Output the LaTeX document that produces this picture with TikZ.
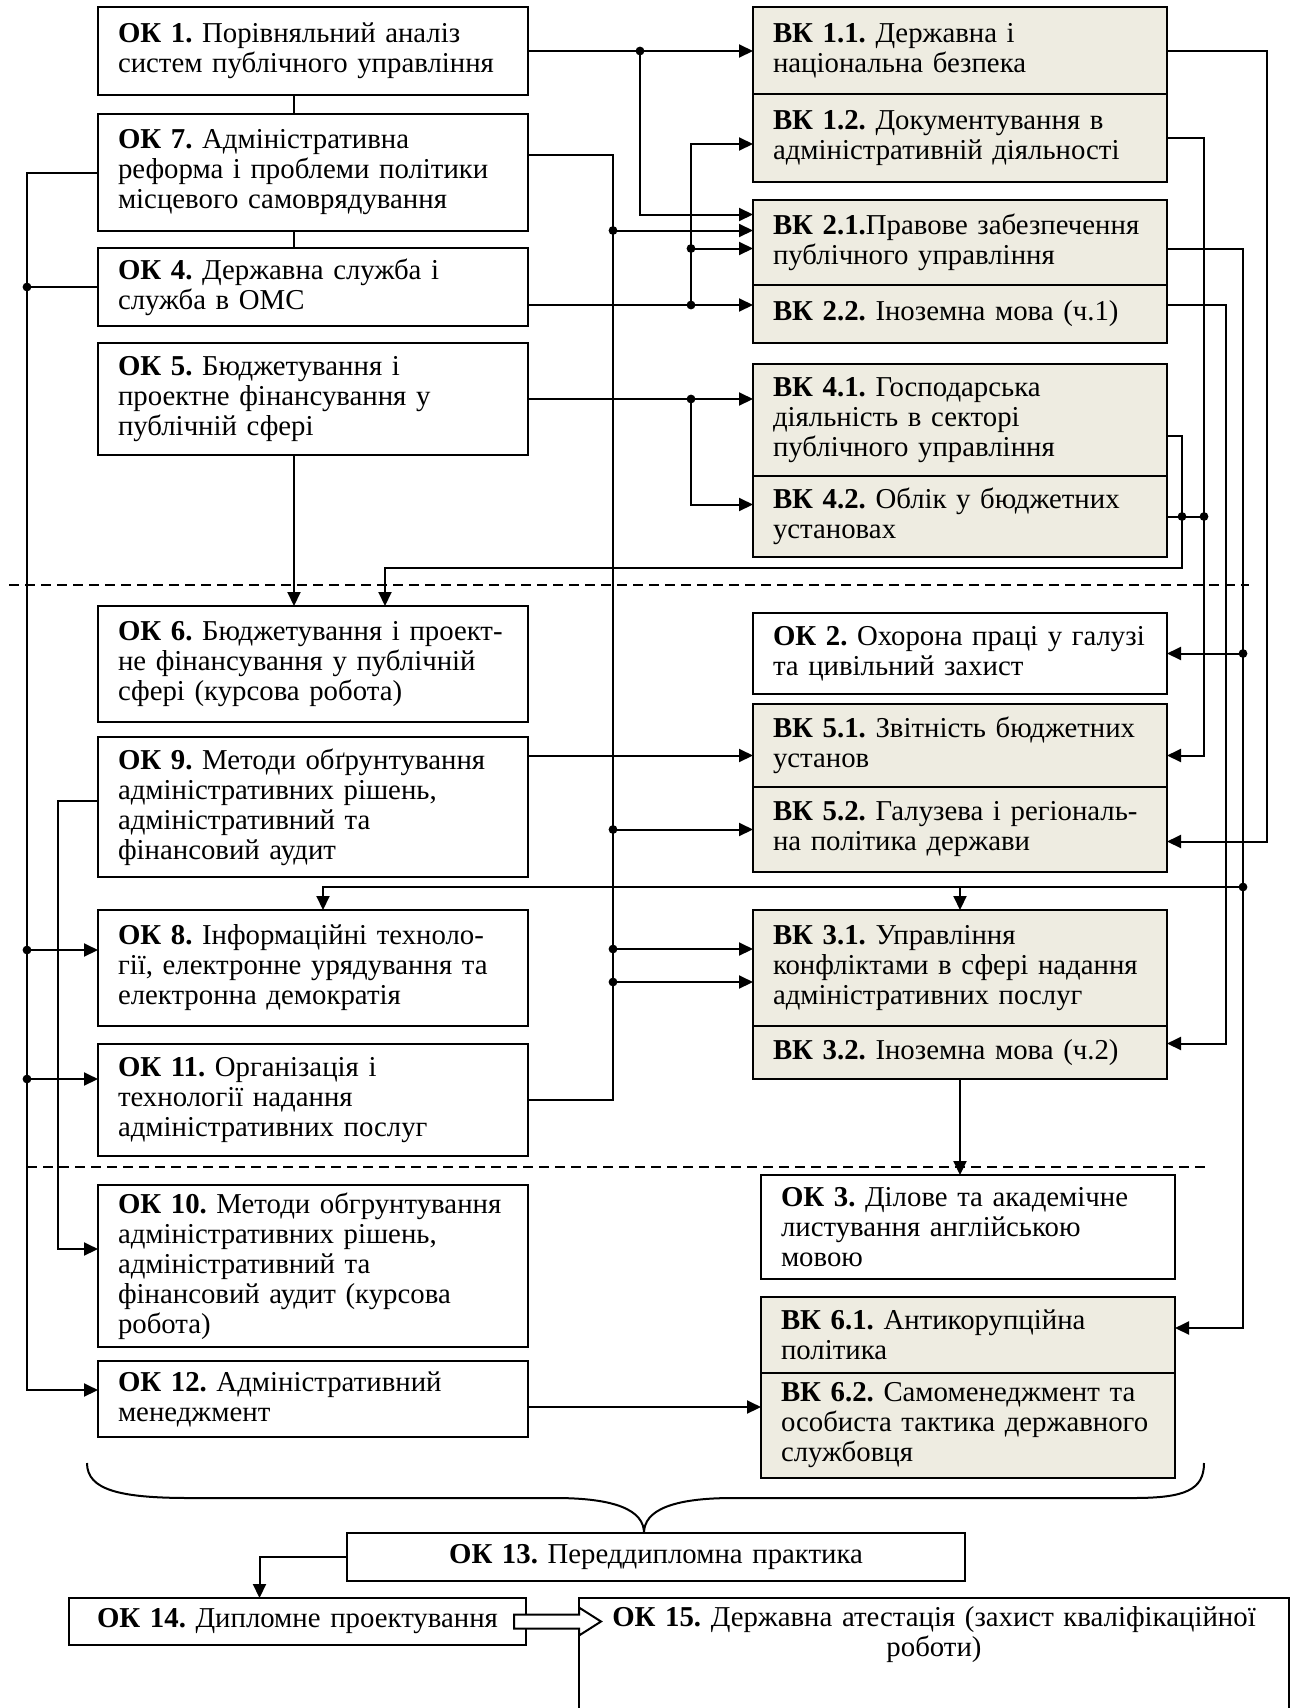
\documentclass[tikz,border=0pt]{standalone}
\usepackage{fontspec}
\setmainfont{Liberation Serif}
\usetikzlibrary{positioning,arrows.meta,calc}
\definecolor{vkfill}{HTML}{EEECE1}
\frenchspacing
\tikzset{
    okbox/.style={rectangle, draw=black, line width=1.3pt, fill=white, align=left, text width=195pt, inner xsep=10pt, inner ysep=0pt, outer sep=0pt, font=\fontsize{14.4}{15}\selectfont},
    vkbox/.style={okbox, fill=vkfill, text width=187pt},
    endbox/.style={okbox, align=center},
    conn/.style={line width=1pt},
    arr/.style={line width=1pt, -{Triangle[length=7pt,width=6.5pt]}},
    sepline/.style={line width=0.7pt, dash pattern=on 5pt off 3pt}
    }

\begin{document}
\begin{tikzpicture}[x=0.5pt, y=-0.5pt]
        \useasboundingbox (0,0) rectangle (1297,1708);
        \fill[white] (0,0) rectangle (1297,1708);
        % buses
        \coordinate (busL) at (27,0);
        \coordinate (busL2) at (58,0);
        \coordinate (busA) at (294,0);
        \coordinate (busB) at (613,0);
        \coordinate (busC) at (640,0);
        \coordinate (busD) at (691,0);
        \coordinate (busR1) at (1182,0);
        \coordinate (busR2) at (1204,0);
        \coordinate (busR3) at (1226,0);
        \coordinate (busR4) at (1243,0);
        \coordinate (busR5) at (1267,0);
        \coordinate (rowA) at (0,568);
        \coordinate (rowB) at (0,887);

        \draw[sepline] (9,585) -- (1249,585);
        \draw[sepline] (27,1167) -- (1209,1167);

        % left column
        \node[okbox, minimum height=44pt, anchor=north west] (ok1) at (98,7) {\textbf{ОК 1.} Порівняльний аналіз\\систем публічного управління};
        \node[okbox, minimum height=58.5pt, below=9.5pt of ok1] (ok7) {\textbf{ОК 7.} Адміністративна\\реформа і проблеми політики\\місцевого самоврядування};
        \node[okbox, minimum height=39pt, below=8.5pt of ok7] (ok4) {\textbf{ОК 4.} Державна служба і\\служба в ОМС};
        \node[okbox, minimum height=56pt, below=8.5pt of ok4] (ok5) {\textbf{ОК 5.} Бюджетування і\\проектне фінансування у\\публічній сфері};
        \node[okbox, minimum height=58pt, below=75.5pt of ok5] (ok6) {\textbf{ОК 6.} Бюджетування і проект-\\не фінансування у публічній\\сфері (курсова робота)};
        \node[okbox, minimum height=70pt, below=7.5pt of ok6] (ok9) {\textbf{ОК 9.} Методи обґрунтування\\адміністративних рішень,\\адміністративний та\\фінансовий аудит};
        \node[okbox, minimum height=58pt, below=16.5pt of ok9] (ok8) {\textbf{ОК 8.} Інформаційні техноло-\\гії, електронне урядування та\\електронна демократія};
        \node[okbox, minimum height=56pt, below=9pt of ok8] (ok11) {\textbf{ОК 11.} Організація і\\технології надання\\адміністративних послуг};
        \node[okbox, minimum height=81pt, below=14.5pt of ok11] (ok10) {\textbf{ОК 10.} Методи обгрунтування\\адміністративних рішень,\\адміністративний та\\фінансовий аудит (курсова\\робота)};
        \node[okbox, minimum height=38pt, below=7pt of ok10] (ok12) {\textbf{ОК 12.} Адміністративний\\менеджмент};

        % right column
        \node[vkbox, minimum height=43.5pt, anchor=north west] (vk11) at (753,7) {\textbf{ВК 1.1.} Державна і\\національна безпека};
        \node[vkbox, minimum height=44pt, below=0pt of vk11] (vk12) {\textbf{ВК 1.2.} Документування в\\адміністративній діяльності};
        \node[vkbox, minimum height=42.5pt, below=9pt of vk12] (vk21) {\textbf{ВК 2.1.}Правове забезпечення\\публічного управління};
        \node[vkbox, minimum height=29pt, below=0pt of vk21] (vk22) {\textbf{ВК 2.2.} Іноземна мова (ч.1)};
        \node[vkbox, minimum height=56pt, below=10.5pt of vk22] (vk41) {\textbf{ВК 4.1.} Господарська\\діяльність в секторі\\публічного управління};
        \node[vkbox, minimum height=40.5pt, below=0pt of vk41] (vk42) {\textbf{ВК 4.2.} Облік у бюджетних\\установах};
        \node[vkbox, fill=white, minimum height=40.5pt, below=28pt of vk42] (ok2) {\textbf{ОК 2.} Охорона праці у галузі\\та цивільний захист};
        \node[vkbox, minimum height=41.5pt, below=5pt of ok2] (vk51) {\textbf{ВК 5.1.} Звітність бюджетних\\установ};
        \node[vkbox, minimum height=42.5pt, below=0pt of vk51] (vk52) {\textbf{ВК 5.2.} Галузева і регіональ-\\на політика держави};
        \node[vkbox, minimum height=58pt, below=19pt of vk52] (vk31) {\textbf{ВК 3.1.} Управління\\конфліктами в сфері надання\\адміністративних послуг};
        \node[vkbox, minimum height=26.5pt, below=0pt of vk31] (vk32) {\textbf{ВК 3.2.} Іноземна мова (ч.2)};
        \node[vkbox, fill=white, minimum height=52pt, below=48pt of vk32, xshift=4pt] (ok3) {\textbf{ОК 3.} Ділове та академічне\\листування англійською\\мовою};
        \node[vkbox, minimum height=38pt, below=9pt of ok3] (vk61) {\textbf{ВК 6.1.} Антикорупційна\\політика};
        \node[vkbox, minimum height=52.5pt, below=0pt of vk61] (vk62) {\textbf{ВК 6.2.} Самоменеджмент та\\особиста тактика державного\\службовця};

        % bottom
        \node[endbox, text width=289pt, minimum height=24pt, anchor=north west] (ok13) at (347,1533) {\textbf{ОК 13.} Переддипломна практика};
        \node[endbox, text width=208.5pt, minimum height=23.5pt, anchor=north west] (ok14) at (69,1598) {\textbf{ОК 14.} Дипломне проектування};
        \node[endbox, text width=335pt, inner ysep=4pt, anchor=north west] (ok15) at (579,1598) {\textbf{ОК 15.} Державна атестація (захист кваліфікаційної\\роботи)\rule[-60pt]{0pt}{0pt}};

        % chain OK 1 - OK 7 - OK 4, OK 5 -> OK 6
        \draw[conn] (ok1.south -| busA) -- (ok7.north -| busA);
        \draw[conn] (ok7.south -| busA) -- (ok4.north -| busA);
        \draw[arr] (ok5.south -| busA) -- (ok6.north -| busA);

        % OK 1
        \draw[arr] (ok1.east) -- (ok1.east -| vk11.west);
        \draw[arr] (ok1.east -| busC) |- ([yshift=14pt]vk21.west);
        \fill (ok1.east -| busC) circle (2.2pt);

        % OK 7 and OK 11
        \draw[conn] ([yshift=9pt]ok7.east) -| (ok11.east -| busB) -- (ok11.east);
        \draw[arr] ([yshift=6pt]vk21.west -| busB) -- ([yshift=6pt]vk21.west);
        \draw[arr] (vk52.west -| busB) -- (vk52.west);
        \draw[arr] ([yshift=9.5pt]vk31.west -| busB) -- ([yshift=9.5pt]vk31.west);
        \draw[arr] ([yshift=-7pt]vk31.west -| busB) -- ([yshift=-7pt]vk31.west);
        \fill ([yshift=6pt]vk21.west -| busB) circle (2.2pt);
        \fill (vk52.west -| busB) circle (2.2pt);
        \fill ([yshift=9.5pt]vk31.west -| busB) circle (2.2pt);
        \fill ([yshift=-7pt]vk31.west -| busB) circle (2.2pt);

        % OK 4
        \draw[arr] ([yshift=-9pt]ok4.east) -- ([yshift=-9pt]ok4.east -| vk22.west);
        \draw[arr] ([yshift=-9pt]ok4.east -| busD) |- ([yshift=-3pt]vk21.west);
        \draw[arr] ([yshift=-9pt]ok4.east -| busD) |- ([yshift=-3pt]vk12.west);
        \fill ([yshift=-9pt]ok4.east -| busD) circle (2.2pt);
        \fill ([yshift=-3pt]vk21.west -| busD) circle (2.2pt);

        % OK 5
        \draw[arr] (ok5.east) -- (ok5.east -| vk41.west);
        \draw[arr] (ok5.east -| busD) |- ([yshift=6pt]vk42.west);
        \fill (ok5.east -| busD) circle (2.2pt);

        % VK 4.1, VK 4.2 -> OK 6
        \draw[arr] ([yshift=-8pt]vk41.east) -| (busR1 |- rowA) -| ([xshift=36pt]ok6.north);
        \draw[conn] (vk42.east) -- (vk42.east -| busR2);
        \fill (vk42.east -| busR1) circle (2.2pt);
        \fill (vk42.east -| busR2) circle (2.2pt);

        % VK 1.2 -> VK 5.1, VK 1.1 -> VK 5.2
        \draw[arr] (vk12.east) -| ([yshift=-5pt]vk51.east -| busR2) -- ([yshift=-5pt]vk51.east);
        \draw[arr] (vk11.east) -| ([yshift=-6pt]vk52.east -| busR5) -- ([yshift=-6pt]vk52.east);

        % VK 2.1
        \draw[arr] ([yshift=-3pt]vk21.east) -| ([yshift=3.5pt]vk61.east -| busR4) -- ([yshift=3.5pt]vk61.east);
        \draw[arr] (ok2.east -| busR4) -- (ok2.east);
        \draw[arr] (busR4 |- rowB) -| ([xshift=5pt]ok8.north);
        \draw[arr] (vk31.north |- rowB) -- (vk31.north);
        \fill (ok2.east -| busR4) circle (2.2pt);
        \fill (busR4 |- rowB) circle (2.2pt);

        % VK 2.2 -> VK 3.2 -> OK 3
        \draw[arr] ([yshift=4.5pt]vk22.east) -| ([yshift=4.5pt]vk32.east -| busR3) -- ([yshift=4.5pt]vk32.east);
        \draw[arr] (vk32.south) -- (vk32.south |- ok3.north);

        % OK 9
        \draw[arr] ([yshift=-5pt]vk51.west -| ok9.east) -- ([yshift=-5pt]vk51.west);
        \draw[arr] ([yshift=3pt]ok9.west) -| ([yshift=8.5pt]ok10.west -| busL2) -- ([yshift=8.5pt]ok10.west);

        % left bus
        \draw[arr] (ok7.west) -| ([yshift=4.5pt]ok12.west -| busL) -- ([yshift=4.5pt]ok12.west);
        \draw[conn] (ok4.west -| busL) -- (ok4.west);
        \draw[arr] ([yshift=9pt]ok8.west -| busL) -- ([yshift=9pt]ok8.west);
        \draw[arr] ([yshift=10.5pt]ok11.west -| busL) -- ([yshift=10.5pt]ok11.west);
        \fill (ok4.west -| busL) circle (2.2pt);
        \fill ([yshift=9pt]ok8.west -| busL) circle (2.2pt);
        \fill ([yshift=10.5pt]ok11.west -| busL) circle (2.2pt);

        % OK 12 -> VK 6.2
        \draw[arr] ([yshift=-4pt]ok12.east) -- ([yshift=-4pt]ok12.east -| vk62.west);

        % brace
        \draw[conn] (87,1463) .. controls (87,1490) and (120,1498) .. (190,1498) -- (555,1498)
            .. controls (615,1498) and (644,1510) .. (644,1533)
            .. controls (644,1510) and (673,1498) .. (733,1498) -- (1133,1498)
            .. controls (1185,1498) and (1204,1490) .. (1204,1463);

        % OK 13 -> OK 14 -> OK 15
        \draw[arr] (ok13.west) -| ([xshift=-19pt]ok14.north);
        \draw[conn, fill=white] ($(ok14.east)+(-6pt,3.5pt)$) -- ($(ok14.east -| ok15.west)+(0pt,3.5pt)$) -- ++(0pt,3.5pt)
            -- ($(ok14.east -| ok15.west)+(11pt,0pt)$) -- ++(-11pt,-7pt) -- ++(0pt,3.5pt)
            -- ($(ok14.east)+(-6pt,-3.5pt)$) -- cycle;
\end{tikzpicture}
\end{document}
